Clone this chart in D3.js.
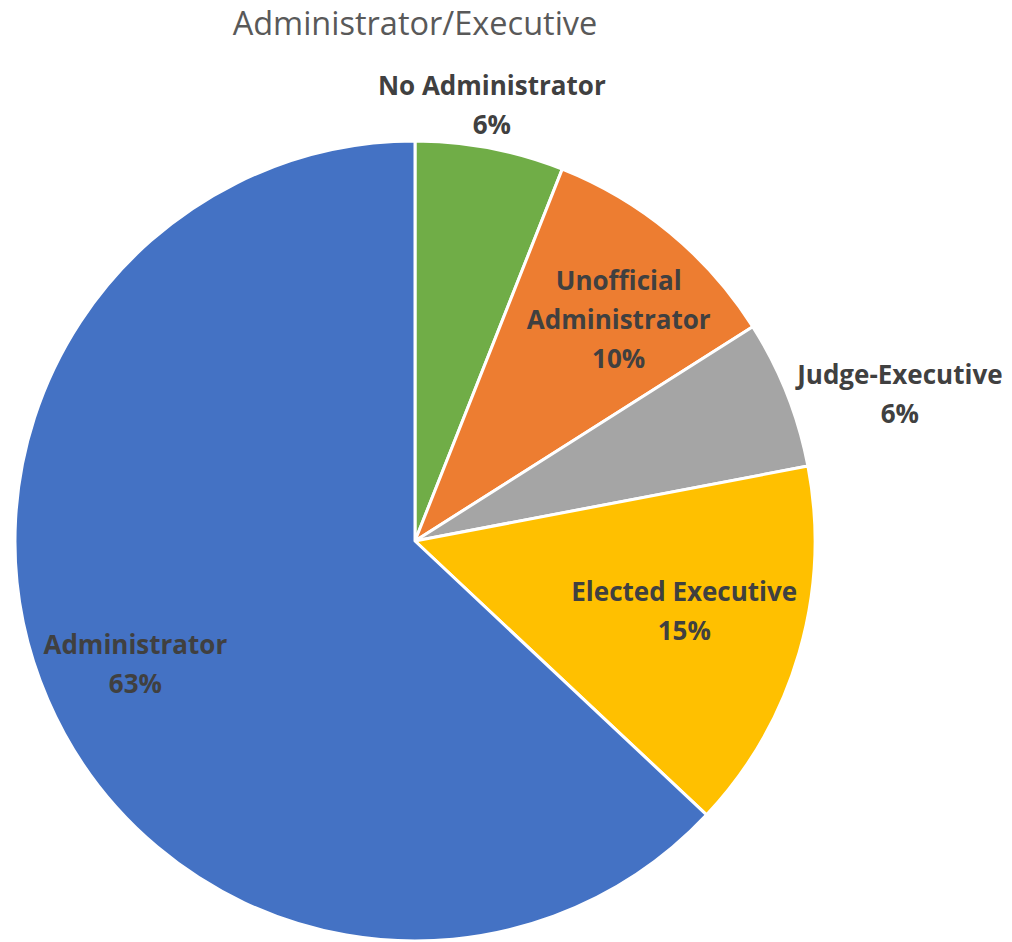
<!DOCTYPE html>
<html><head><meta charset="utf-8">
<script src="https://cdn.jsdelivr.net/npm/d3@7"></script>
<style>body{margin:0;background:#fff;}svg{display:block;}</style>
</head><body>
<svg id="chart" width="1012" height="942"></svg>
<script>
const title = "Administrator/Executive";
const categories = ["No Administrator", "Unofficial Administrator", "Judge-Executive", "Elected Executive", "Administrator"];
const labelLines = [["No Administrator"], ["Unofficial", "Administrator"], ["Judge-Executive"], ["Elected Executive"], ["Administrator"]];
const values = [6, 10, 6, 15, 63];
const colors = ["#70AD47", "#ED7D31", "#A5A5A5", "#FFC000", "#4472C4"];
const outside = [true, false, true, false, false];

const svg = d3.select("#chart");
const cx = 415, cy = 541, R = 400;
const total = d3.sum(values);
// small best-fit nudges for inside labels (layout, not data)
const nudge = [[0, 0], [15, 7], [0, 0], [-15, -12], [-8, 6]];

svg.append("text").attr("x", 415).attr("y", 35).attr("text-anchor", "middle")
  .attr("font-family", "'Open Sans', sans-serif").attr("font-size", 32.5)
  .attr("fill", "#595959").text(title);

const pie = d3.pie().sort(null).value(d => d)(values);
const arc = d3.arc().innerRadius(0).outerRadius(R);
const g = svg.append("g").attr("transform", `translate(${cx},${cy})`);
g.selectAll("path").data(pie).join("path")
  .attr("d", arc).attr("fill", (d, i) => colors[i])
  .attr("stroke", "#fff").attr("stroke-width", 3).attr("stroke-linejoin", "round");

const fs = 26, lh = 39;
pie.forEach((d, i) => {
  const lines = labelLines[i].concat([Math.round(values[i] / total * 100) + "%"]);
  const a = (d.startAngle + d.endAngle) / 2;
  const s = Math.sin(a), c = -Math.cos(a);
  let x, y;
  const t = g.append("text").attr("font-family", "'Open Sans', sans-serif")
    .attr("font-weight", "bold").attr("font-size", fs).attr("fill", "#404040")
    .attr("text-anchor", "middle");
  lines.forEach((ln, k) => t.append("tspan").attr("x", 0).attr("dy", k === 0 ? 0 : lh).text(ln));
  const bb = t.node().getBBox();
  const h = lh * lines.length;
  if (outside[i]) {
    const r = R + 10;
    const px = r * s, py = r * c;
    if (Math.abs(s) > Math.abs(c)) {
      x = px + Math.sign(s) * bb.width / 2;
      y = py + 4;
    } else {
      x = px;
      y = py + Math.sign(c) * h / 2 + (c < 0 ? 6 : 0);
    }
  } else {
    const r = R * 0.74;
    x = r * s + nudge[i][0]; y = r * c + nudge[i][1];
  }
  const y0 = y - h / 2 + lh / 2 + fs * 0.35;
  t.attr("transform", `translate(${x},${y0})`);
});
</script>
</body></html>
